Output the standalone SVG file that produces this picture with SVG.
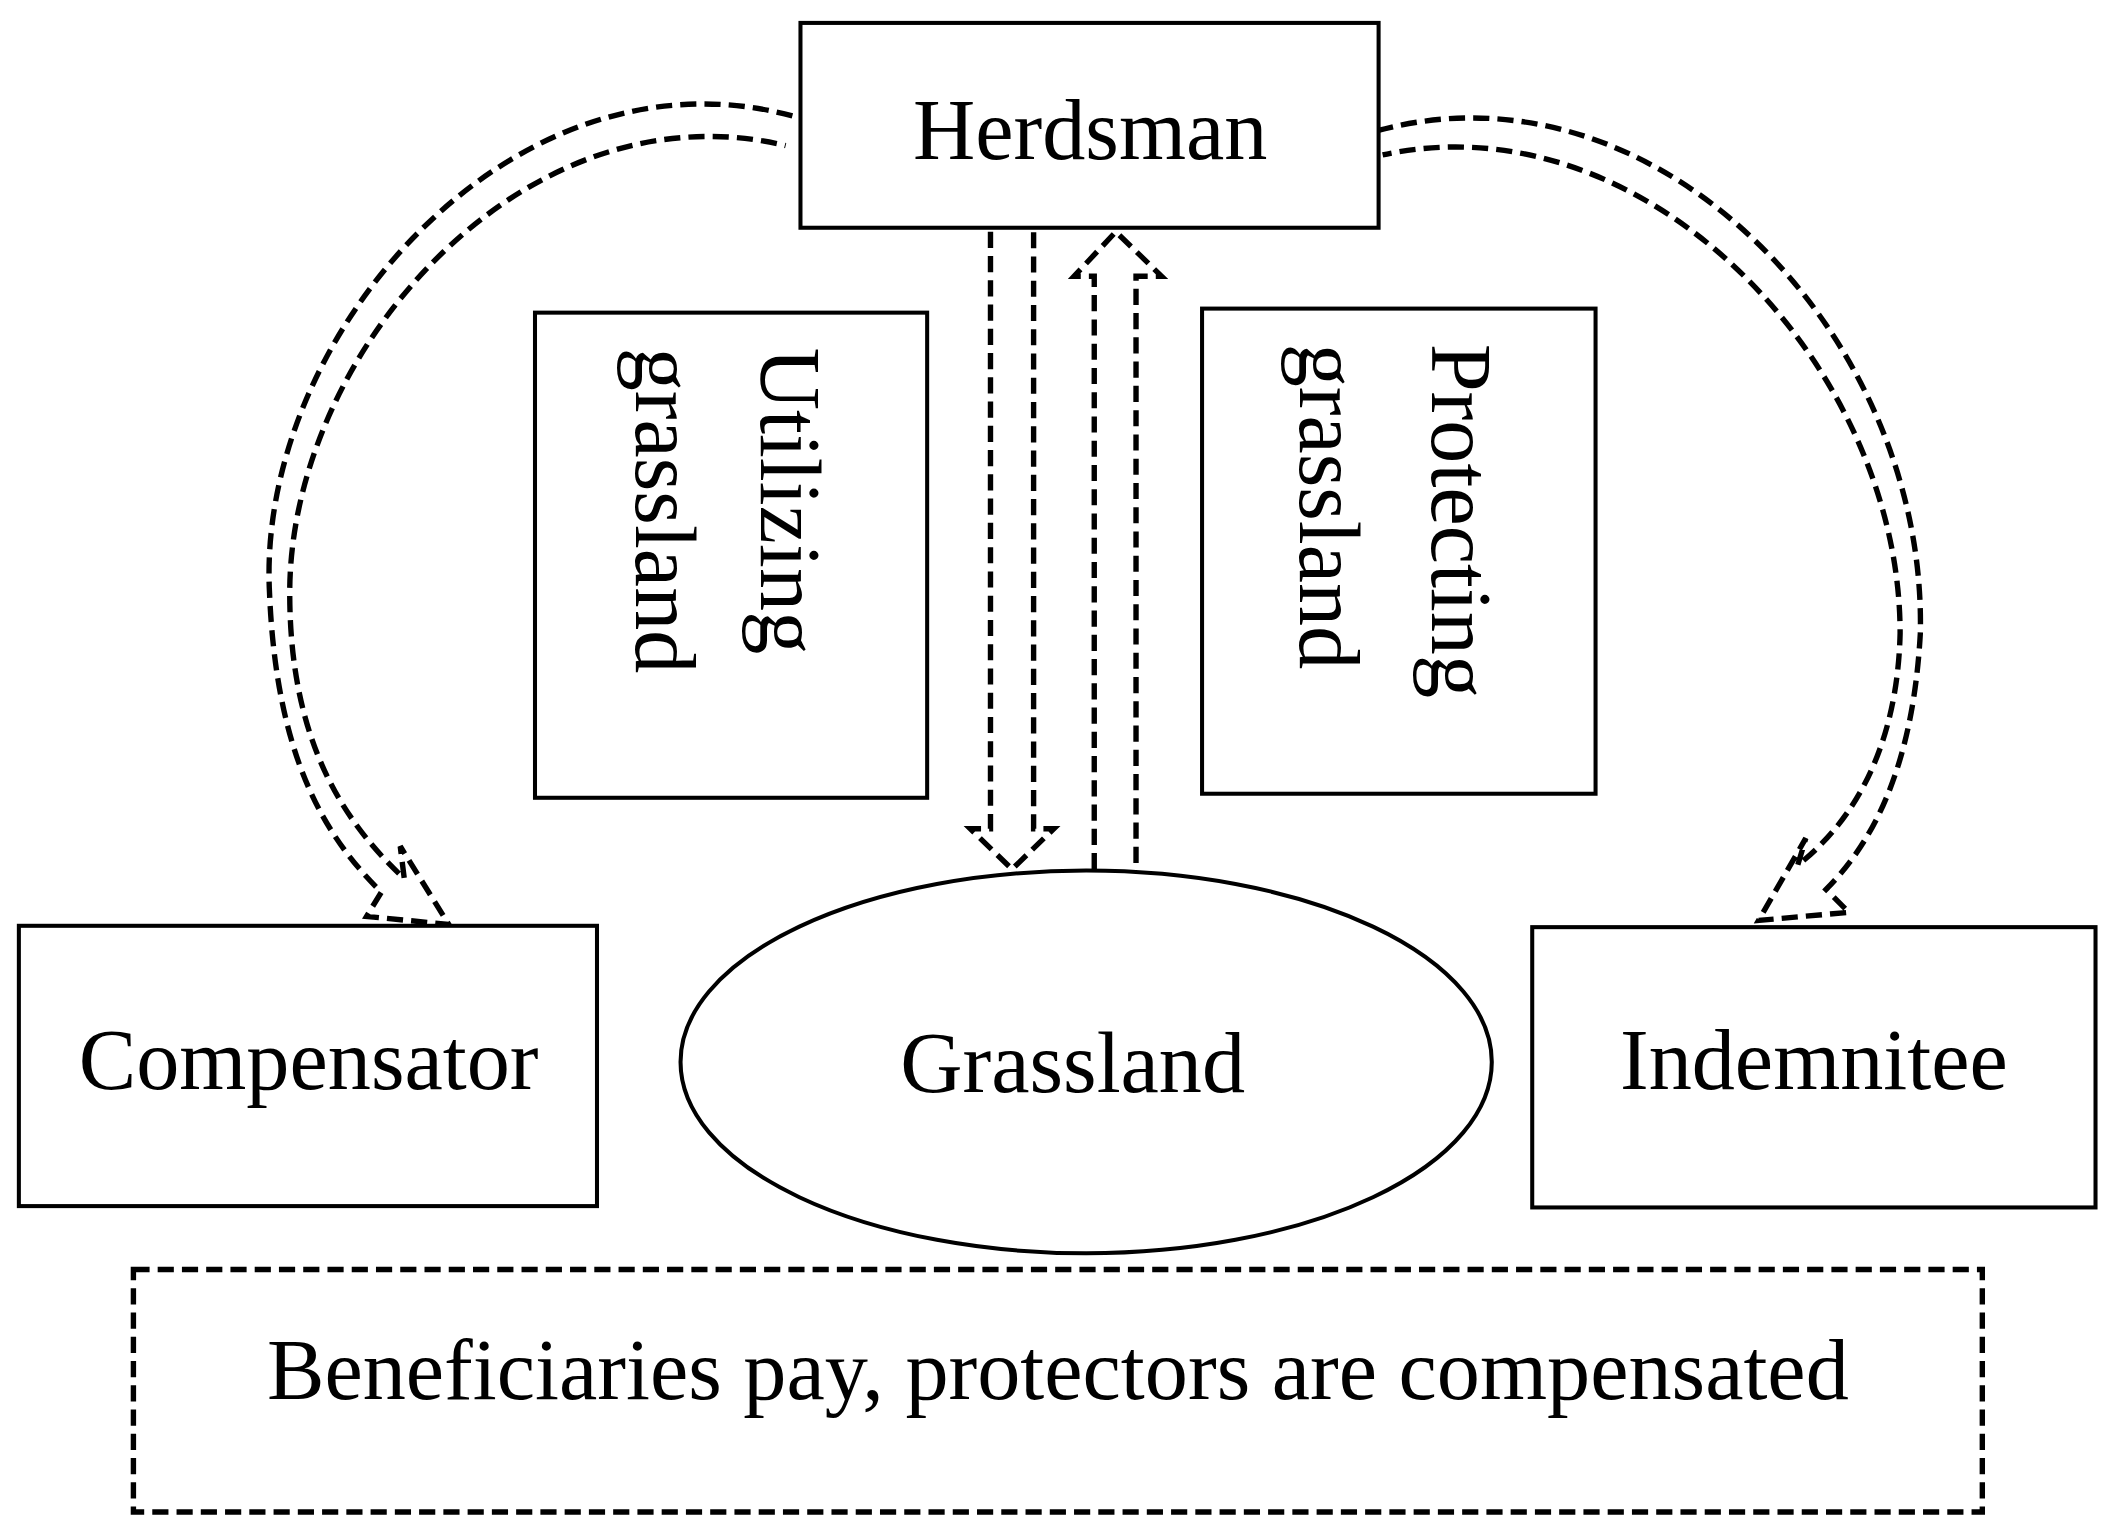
<svg xmlns="http://www.w3.org/2000/svg" width="2113" height="1535" viewBox="0 0 2113 1535">
<style>
.b{fill:#fff;stroke:#000;stroke-width:3}
.d{fill:none;stroke:#000;stroke-width:4;stroke-dasharray:12 6}
.t{font-family:"Liberation Serif",serif;font-size:64px;fill:#000}
</style>
<rect width="2113" height="1535" fill="#fff"/>
<g transform="scale(1.3476)">
<g id="connectors">
<path class="d" d="M735,172 V615 H720 L751,645 L782,615 H767 V172"/>
<path class="d" d="M812,645 V205 H797 L828,172 L862,205 H843 V645"/>
<path class="d" d="M588,86 C380,30 190,250 200,440 C205,560 240,620 283,662 L272,680 L333,686 L297,628 L300,652 C255,610 215,550 215,440 C215,260 390,62 583,108"/>
<path class="d" d="M1022,97 C1230,40 1430,250 1425,470 C1420,560 1395,620 1355,660 L1372,677 L1305,683 L1340,622 L1334,642 C1375,610 1408,555 1410,470 C1410,270 1220,72 1026,115"/>
</g>
<g id="herdsman"><rect class="b" x="594" y="17" width="429" height="152"/><text class="t" x="809" y="118" text-anchor="middle" font-size="68">Herdsman</text></g>
<g id="utilizing"><rect class="b" x="397" y="232" width="291" height="360"/><text class="t" transform="translate(565,258) rotate(90)" font-size="65">Utilizing</text><text class="t" transform="translate(472,258) rotate(90)" font-size="65">grassland</text></g>
<g id="protecting"><rect class="b" x="892" y="229" width="292" height="360"/><text class="t" transform="translate(1063,255) rotate(90)">Protecting</text><text class="t" transform="translate(965,255) rotate(90)">grassland</text></g>
<g id="compensator"><rect class="b" x="14" y="687" width="429" height="208"/><text class="t" x="229" y="808" text-anchor="middle" font-size="60">Compensator</text></g>
<g id="grassland"><ellipse class="b" cx="806" cy="788" rx="301" ry="142"/><text class="t" x="796" y="810" text-anchor="middle" font-size="60">Grassland</text></g>
<g id="indemnitee"><rect class="b" x="1137" y="688" width="418" height="208"/><text class="t" x="1346" y="808" text-anchor="middle" font-size="60">Indemnitee</text></g>
<g id="principle"><rect class="d" x="99" y="942" width="1372" height="180"/><text class="t" x="785" y="1038" text-anchor="middle" font-size="55">Beneficiaries pay, protectors are compensated</text></g>
</g>
</svg>
